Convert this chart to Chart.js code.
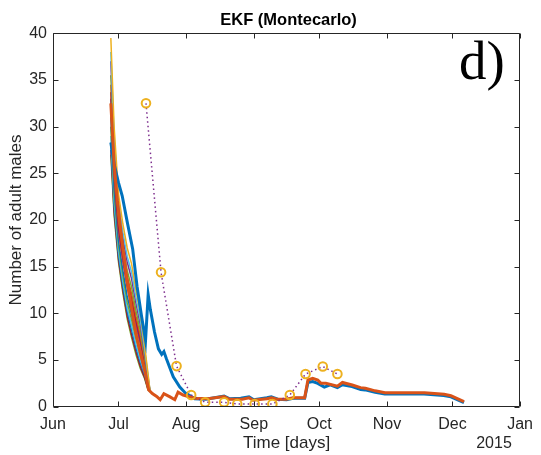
<!DOCTYPE html>
<html>
<head>
<meta charset="utf-8">
<script src="https://cdn.jsdelivr.net/npm/chart.js@4/dist/chart.umd.min.js"></script>
<style>
  html, body { margin: 0; padding: 0; background: #fff; }
</style>
</head>
<body>
<canvas id="chart" width="541" height="455"></canvas>
<script>
// x axis is days counted from 1 June 2014
const MONTH_DAYS = [0, 30, 61, 92, 122, 153, 183, 214];
const MONTH_LABELS = ['Jun', 'Jul', 'Aug', 'Sep', 'Oct', 'Nov', 'Dec', 'Jan'];
const YEAR_LABEL = '2015';
const TITLE = 'EKF (Montecarlo)';
const PANEL = 'd)';

// field observations (circles + dotted line)
const obsDays = [42.6, 49.5, 56.6, 63.3, 69.7, 78.4, 84.4, 92.4, 100.5, 108.5, 115.7, 123.6, 130.3];
const obsMales = [32.5, 14.4, 4.35, 1.25, 0.47, 0.47, 0.29, 0.29, 0.29, 1.25, 3.5, 4.3, 3.5];

// thick orange run
const meanDays = [26.5, 28, 29.5, 32, 34, 36, 38, 40, 42.3, 43.5,
  43.8, 45.5, 47.5, 49.1, 50.8, 53.6, 55.8, 57.3, 59.6, 62,
  64.9, 70.9, 78.4, 80.8, 86.7, 89.8, 91.6, 98, 100.2, 102.5,
  107, 110, 115.3, 116.8, 119, 121.3, 122.8, 125, 130.3, 132.6,
  137.1, 140.9, 143.1, 147.6, 152.1, 161.2, 170.2, 179.2, 182.3, 188.3];
const meanMales = [32.5, 26, 22.1, 17, 13.5, 10.5, 7.8, 5.8, 3.6, 2.2,
  1.8, 1.4, 1.1, 0.75, 1.4, 1.05, 0.75, 1.55, 1.25, 1.1,
  0.9, 0.85, 1.1, 0.8, 0.8, 0.95, 0.7, 0.85, 0.95, 0.8,
  0.8, 0.97, 0.97, 2.86, 3.04, 2.86, 2.5, 2.5, 2.2, 2.6,
  2.33, 2.04, 1.97, 1.7, 1.5, 1.5, 1.5, 1.33, 1.18, 0.54];

// thick blue run
const estDays = [26.5, 28, 30, 31.7, 34, 36.5, 38.5, 40.5, 42.4, 43.6,
  44.6, 46.5, 48.3, 49.8, 50.8, 52, 55.1, 58.1, 60.5, 62.6,
  64.9, 70, 78.4, 81, 86, 89.8, 92, 98, 100, 103,
  107, 110, 115.3, 116.8, 119, 121.3, 124.3, 127, 130.3, 132.6,
  137, 141, 143, 147.6, 152, 161, 170, 179, 182.3, 188.3];
const estMales = [28.3, 26.0, 24.0, 22.6, 19.8, 16.9, 12.9, 9.8, 7.1, 12.0,
  10.4, 8.0, 6.2, 5.6, 5.9, 5.1, 3.2, 2.1, 1.5, 1.2,
  0.85, 0.8, 1.15, 0.85, 0.9, 1.05, 0.75, 0.95, 1.05, 0.8,
  0.75, 0.9, 0.9, 2.6, 2.7, 2.5, 2.1, 2.35, 2.05, 2.35,
  2.15, 1.85, 1.8, 1.55, 1.35, 1.35, 1.35, 1.2, 1.05, 0.45];

// thin Montecarlo runs, early decay only (afterwards they sit under the thick lines)
const runDays = [26.5, 28, 30, 32, 34, 36, 38, 40, 42, 43.5, 44.5];
const runs = [
  [39.5, 30.0, 22.8, 19.6, 17.0, 15.3, 12.5, 10.0, 6.5, 3.6, 1.6],
  [38.0, 28.9, 21.9, 18.7, 16.1, 14.4, 11.7, 9.3, 6.1, 3.4, 1.6],
  [37.0, 28.1, 21.3, 18.1, 15.5, 13.7, 11.1, 8.8, 5.8, 3.2, 1.6],
  [35.5, 27.0, 20.5, 17.2, 14.6, 12.8, 10.3, 8.1, 5.4, 3.0, 1.6],
  [34.5, 26.2, 19.9, 16.6, 14.0, 12.1, 9.7, 7.6, 5.1, 2.9, 1.6],
  [33.7, 25.6, 19.4, 16.2, 13.5, 11.7, 9.3, 7.3, 4.9, 2.8, 1.6],
  [33.0, 25.1, 19.0, 15.8, 13.0, 11.2, 8.9, 6.9, 4.7, 2.7, 1.6],
  [32.5, 24.7, 18.7, 15.5, 12.7, 10.9, 8.6, 6.7, 4.5, 2.6, 1.6],
  [31.0, 23.5, 17.8, 14.6, 11.8, 9.9, 7.8, 6.0, 4.1, 2.4, 1.6],
  [30.0, 22.8, 17.3, 14.0, 11.2, 9.3, 7.3, 5.5, 3.8, 2.2, 1.6],
  [29.0, 22.0, 16.7, 13.4, 10.6, 8.7, 6.7, 5.0, 3.6, 2.1, 1.6],
  [28.3, 21.5, 16.2, 12.9, 10.2, 8.2, 6.3, 4.7, 3.4, 2.0, 1.6],
  [27.5, 20.9, 15.8, 12.5, 9.7, 7.7, 5.9, 4.3, 3.1, 1.9, 1.6],
  [27.0, 20.5, 15.5, 12.2, 9.4, 7.4, 5.6, 4.1, 3.0, 1.8, 1.6]
];
const runColors = ['#EDB120', '#4DBEEE', '#7E2F8E', '#77AC30', '#D95319', '#A2142F', '#7E2F8E',
  '#D95319', '#0072BD', '#77AC30', '#4DBEEE', '#0072BD', '#A2142F', '#77AC30'];

const FONT = "'Liberation Sans', Helvetica, Arial, sans-serif";
const AXIS_COLOR = '#262626';

function pts(xs, ys) {
  return xs.map((x, i) => ({ x: x, y: ys[i] }));
}

var datasets = [];
datasets.push({
  data: pts(obsDays, obsMales),
  borderColor: '#7E2F8E',
  borderWidth: 1.5,
  borderDash: [1.5, 3],
  pointRadius: 4.3,
  pointBorderWidth: 2,
  pointBorderColor: '#EDB120',
  pointBackgroundColor: 'rgba(0,0,0,0)',
  order: 0
});
datasets.push({
  data: pts(meanDays, meanMales),
  borderColor: '#D95319',
  borderWidth: 3,
  pointRadius: 0,
  order: 1
});
datasets.push({
  data: pts(estDays, estMales),
  borderColor: '#0072BD',
  borderWidth: 3,
  pointRadius: 0,
  order: 2
});
runs.forEach(function(r, i) {
  datasets.push({
    data: pts(runDays, r),
    borderColor: runColors[i],
    borderWidth: 1.5,
    pointRadius: 0,
    order: 3
  });
});

// matlab style box with inward ticks, title, year label and panel letter
const axesBox = {
  id: 'axesBox',
  afterDraw(chart) {
    const ctx = chart.ctx;
    const a = chart.chartArea;
    const xs = chart.scales.x;
    const ys = chart.scales.y;
    const L = Math.round(a.left) + 0.5, R = Math.round(a.right) - 0.5;
    const T = Math.round(a.top) + 0.5, B = Math.round(a.bottom) - 0.5;
    const tl = 5;
    ctx.save();
    ctx.strokeStyle = AXIS_COLOR;
    ctx.lineWidth = 1;
    ctx.beginPath();
    ctx.rect(L, T, R - L, B - T);
    MONTH_DAYS.forEach(function(d) {
      const px = Math.round(xs.getPixelForValue(d)) + 0.5;
      ctx.moveTo(px, B); ctx.lineTo(px, B - tl);
      ctx.moveTo(px, T); ctx.lineTo(px, T + tl);
    });
    ys.ticks.forEach(function(t) {
      const py = Math.round(ys.getPixelForValue(t.value)) + 0.5;
      ctx.moveTo(L, py); ctx.lineTo(L + tl, py);
      ctx.moveTo(R, py); ctx.lineTo(R - tl, py);
    });
    ctx.stroke();

    ctx.fillStyle = '#000';
    ctx.font = 'bold 16.5px ' + FONT;
    ctx.textAlign = 'center';
    ctx.textBaseline = 'middle';
    ctx.fillText(TITLE, (a.left + a.right) / 2 + 2, 20);

    ctx.fillStyle = AXIS_COLOR;
    ctx.font = '16px ' + FONT;
    ctx.fillText(YEAR_LABEL, 494, 444);

    ctx.fillStyle = '#000';
    ctx.font = "55px 'Liberation Serif', 'Times New Roman', serif";
    ctx.textAlign = 'left';
    ctx.textBaseline = 'alphabetic';
    ctx.fillText(PANEL, 459, 79);
    ctx.restore();
  }
};

new Chart(document.getElementById('chart'), {
  type: 'line',
  data: { datasets: datasets },
  plugins: [axesBox],
  options: {
    responsive: false,
    animation: false,
    devicePixelRatio: 1,
    layout: { padding: { left: 0, right: 14, top: 33.3, bottom: 0 } },
    elements: { line: { tension: 0 } },
    plugins: {
      legend: { display: false },
      tooltip: { enabled: false },
      title: { display: false }
    },
    scales: {
      x: {
        type: 'linear',
        min: 0,
        max: 214,
        afterBuildTicks: function(s) { s.ticks = MONTH_DAYS.map(v => ({ value: v })); },
        afterFit: function(s) { s.height = 48.3; },
        grid: { display: false, drawTicks: false },
        border: { display: false },
        ticks: {
          padding: 8,
          color: AXIS_COLOR,
          font: { family: FONT, size: 16 },
          maxRotation: 0,
          autoSkip: false,
          callback: v => MONTH_LABELS[MONTH_DAYS.indexOf(v)]
        },
        title: {
          display: true,
          text: 'Time [days]',
          color: AXIS_COLOR,
          font: { family: FONT, size: 17 },
          padding: { top: 0, bottom: 1 }
        }
      },
      y: {
        min: 0,
        max: 40,
        afterFit: function(s) { s.width = 53; },
        grid: { display: false, drawTicks: false },
        border: { display: false },
        ticks: {
          stepSize: 5,
          padding: 6,
          color: AXIS_COLOR,
          font: { family: FONT, size: 16 }
        },
        title: {
          display: true,
          text: 'Number of adult males',
          color: AXIS_COLOR,
          font: { family: FONT, size: 17 },
          padding: { top: 6, bottom: 0 }
        }
      }
    }
  }
});
</script>
</body>
</html>
